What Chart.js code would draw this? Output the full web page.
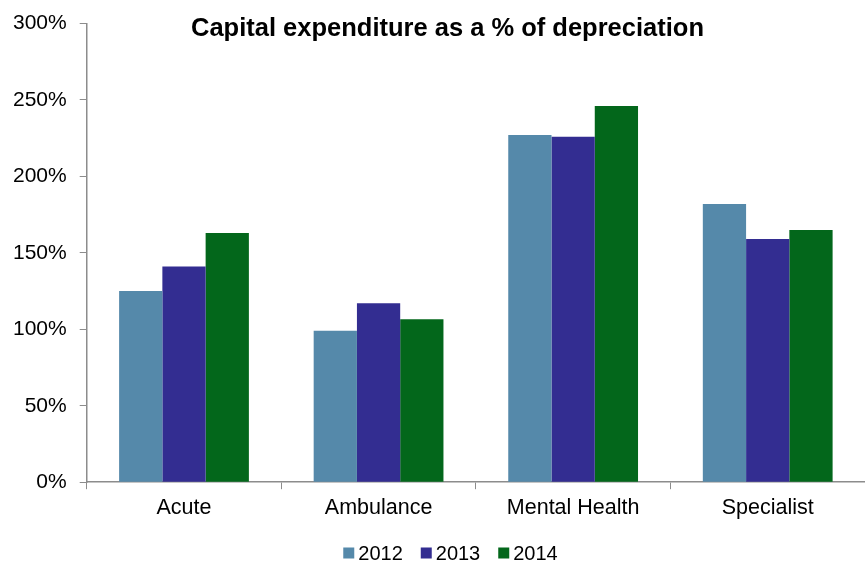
<!DOCTYPE html>
<html>
<head>
<meta charset="utf-8">
<script src="https://cdn.jsdelivr.net/npm/chart.js@4.4.1/dist/chart.umd.min.js"></script>
<style>
  body { margin: 0; background: #fff; }
</style>
</head>
<body>
<canvas id="capexChart" width="865" height="563"></canvas>
<script>
const categories = ['Acute', 'Ambulance', 'Mental Health', 'Specialist'];
const years = ['2012', '2013', '2014'];
const values2012 = [125, 99, 227, 182];
const values2013 = [141, 117, 226, 159];
const values2014 = [163, 106.5, 246, 165];
const yTicks = [0, 50, 100, 150, 200, 250, 300];
const colors = ['#5589AA', '#332D91', '#03671B'];
const titleText = 'Capital expenditure as a % of depreciation';
const FONT = '"Liberation Sans", Arial, sans-serif';

// title and legend sit a little right of centre in the original,
// so they are drawn here instead of with the built-in boxes
const titleLegendPlugin = {
  id: 'titleLegend',
  afterDraw(chart) {
    const ctx = chart.ctx;
    ctx.save();
    ctx.font = 'bold 25.5px ' + FONT;
    ctx.fillStyle = '#000';
    ctx.textAlign = 'center';
    ctx.textBaseline = 'alphabetic';
    ctx.fillText(titleText, chart.width / 2 + 15, 36);

    // legend
    ctx.font = '20px ' + FONT;
    ctx.textAlign = 'left';
    ctx.textBaseline = 'middle';
    const box = 11, gap = 4, spacing = 18;
    const items = chart.data.datasets.map(ds => ({
      label: ds.label, color: ds.backgroundColor, w: ctx.measureText(ds.label).width
    }));
    let total = 0;
    items.forEach((it, i) => { total += box + gap + it.w + (i ? spacing : 0); });
    let x = chart.width / 2 + 18 - total / 2;
    const y = 553;
    items.forEach(it => {
      ctx.fillStyle = it.color;
      ctx.fillRect(x, y - box / 2, box, box);
      x += box + gap;
      ctx.fillStyle = '#000';
      ctx.fillText(it.label, x, y + 1);
      x += it.w + spacing;
    });
    ctx.restore();
  }
};

const ctx = document.getElementById('capexChart').getContext('2d');
new Chart(ctx, {
  type: 'bar',
  data: {
    labels: categories,
    datasets: [
      { label: years[0], data: values2012, backgroundColor: colors[0] },
      { label: years[1], data: values2013, backgroundColor: colors[1] },
      { label: years[2], data: values2014, backgroundColor: colors[2] }
    ]
  },
  options: {
    responsive: false,
    animation: false,
    layout: { padding: { top: 10, right: 0, left: 0, bottom: 36 } },
    datasets: {
      bar: { categoryPercentage: 0.667, barPercentage: 1.0 }
    },
    plugins: {
      title: { display: false },
      tooltip: { enabled: false },
      legend: { display: false }
    },
    scales: {
      x: {
        grid: { display: true, drawOnChartArea: false, offset: true, tickLength: 7, color: '#8c8c8c' },
        border: { display: true, color: '#8c8c8c', width: 1.5 },
        ticks: {
          color: '#000',
          padding: 6,
          font: { family: FONT, size: 21.5 }
        }
      },
      y: {
        min: 0,
        max: 300,
        afterBuildTicks(axis) {
          axis.ticks = yTicks.map(v => ({ value: v }));
        },
        grid: { display: true, drawOnChartArea: false, tickLength: 7, color: '#8c8c8c' },
        border: { display: true, color: '#8c8c8c', width: 1.5 },
        ticks: {
          color: '#000',
          padding: 13,
          callback: v => v + '%',
          font: { family: FONT, size: 21, lineHeight: 1 }
        }
      }
    }
  },
  plugins: [titleLegendPlugin]
});
</script>
</body>
</html>
